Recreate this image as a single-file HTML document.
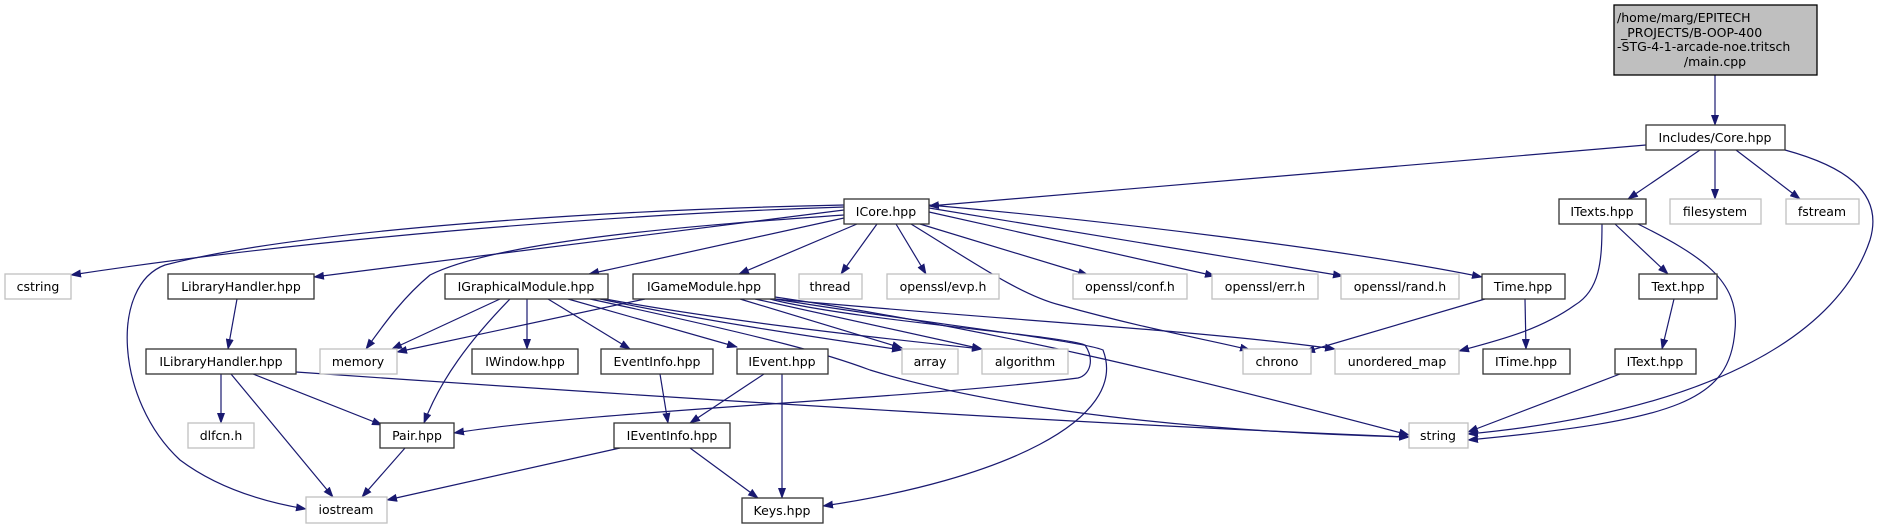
<!DOCTYPE html>
<html><head><meta charset="utf-8"><style>
html,body{margin:0;padding:0;background:#fff;}
svg{display:block;}
text{font-family:"DejaVu Sans","Liberation Sans",sans-serif;font-size:12.5px;fill:#000;text-anchor:middle;}
.e{fill:none;stroke:#191970;stroke-width:1.2;marker-end:url(#a);}
.n{fill:#fff;stroke:#333;stroke-width:1.3;}
.g{fill:#fff;stroke:#c0c0c0;stroke-width:1.3;}
</style></head><body>
<svg width="1880" height="529" viewBox="0 0 1880 529" xmlns="http://www.w3.org/2000/svg">
<defs><marker id="a" markerUnits="userSpaceOnUse" markerWidth="11" markerHeight="8" refX="10" refY="4" orient="auto"><path d="M0,0 L11,4 L0,8 z" fill="#191970"/></marker></defs>
<g>
<path class="e" d="M1715,75 L1715,125"/>
<path class="e" d="M1646,145 L929,206"/>
<path class="e" d="M1700,150 L1628,199"/>
<path class="e" d="M1715,150 L1715,199"/>
<path class="e" d="M1736,150 L1800,199"/>
<path class="e" d="M1785,150 C1840,165 1885,190 1870,240 C1840,330 1720,410 1468,434"/>
<path class="e" d="M1638,224 C1700,255 1740,280 1735,330 C1730,400 1680,420 1468,440"/>
<path class="e" d="M1602,224 C1602,260 1600,290 1575,305 C1540,330 1500,340 1459,351"/>
<path class="e" d="M1615,224 L1668,274"/>
<path class="e" d="M1674,299 L1662,349"/>
<path class="e" d="M1620,374 L1468,432"/>
<path class="e" d="M1525,299 L1526,349"/>
<path class="e" d="M1485,299 L1305,352"/>
<path class="e" d="M929,205 C1100,220 1350,250 1482,277"/>
<path class="e" d="M929,208 L1343,276"/>
<path class="e" d="M929,212 L1215,276"/>
<path class="e" d="M920,224 L1088,275"/>
<path class="e" d="M896,224 L926,274"/>
<path class="e" d="M877,224 L841,274"/>
<path class="e" d="M857,224 L739,274"/>
<path class="e" d="M911,224 C970,260 1020,295 1060,305 C1150,330 1210,340 1250,350"/>
<path class="e" d="M844,218 L589,274"/>
<path class="e" d="M844,215 C700,225 500,240 430,275 C400,300 380,330 366,349"/>
<path class="e" d="M844,210 L314,277"/>
<path class="e" d="M844,207 C600,215 300,240 71,275"/>
<path class="e" d="M844,205 C600,210 300,230 165,265 C110,285 115,400 180,460 C220,490 270,503 306,509"/>
<path class="e" d="M237,299 L228,349"/>
<path class="e" d="M221,374 L221,423"/>
<path class="e" d="M253,374 L382,425"/>
<path class="e" d="M231,374 L333,497"/>
<path class="e" d="M296,372 C700,400 1100,425 1409,437"/>
<path class="e" d="M405,448 L362,497"/>
<path class="e" d="M500,299 L392,349"/>
<path class="e" d="M510,299 C470,340 440,380 424,423"/>
<path class="e" d="M527,299 L527,349"/>
<path class="e" d="M548,299 L630,349"/>
<path class="e" d="M568,299 L737,347"/>
<path class="e" d="M600,299 C700,320 800,335 902,350"/>
<path class="e" d="M605,299 C720,320 850,335 982,349"/>
<path class="e" d="M590,299 C780,340 830,355 870,370 C1000,410 1200,432 1409,437"/>
<path class="e" d="M645,299 L397,352"/>
<path class="e" d="M740,299 L902,348"/>
<path class="e" d="M755,299 L982,349"/>
<path class="e" d="M770,299 C850,320 1060,335 1085,345 C1095,360 1090,375 1078,378 C900,400 600,410 454,433"/>
<path class="e" d="M775,299 C900,320 1080,340 1103,350 C1130,420 1000,480 823,506"/>
<path class="e" d="M775,297 C1000,330 1200,380 1409,435"/>
<path class="e" d="M775,299 C1000,320 1200,330 1335,349"/>
<path class="e" d="M660,374 L668,423"/>
<path class="e" d="M764,374 L690,423"/>
<path class="e" d="M782,374 L782,498"/>
<path class="e" d="M620,448 L387,500"/>
<path class="e" d="M690,448 L758,498"/>
</g>
<g>
<rect x="1614" y="5" width="203" height="70" fill="#bfbfbf" stroke="#000" stroke-width="1.3"/>
<text x="1617" y="22" style="text-anchor:start">/home/marg/EPITECH</text>
<text x="1621" y="37" style="text-anchor:start">_PROJECTS/B-OOP-400</text>
<text x="1617" y="51" style="text-anchor:start">-STG-4-1-arcade-noe.tritsch</text>
<text x="1715" y="66">/main.cpp</text>

<rect class="n" x="1646" y="125" width="139" height="25"/><text x="1715" y="142">Includes/Core.hpp</text>
<rect class="n" x="844" y="199" width="85" height="25"/><text x="886" y="216">ICore.hpp</text>
<rect class="n" x="1559" y="199" width="87" height="25"/><text x="1602" y="216">ITexts.hpp</text>
<rect class="g" x="1670" y="199" width="91" height="25"/><text x="1715" y="216">filesystem</text>
<rect class="g" x="1786" y="199" width="73" height="25"/><text x="1822" y="216">fstream</text>

<rect class="g" x="5" y="274" width="66" height="25"/><text x="38" y="291">cstring</text>
<rect class="n" x="168" y="274" width="146" height="25"/><text x="241" y="291">LibraryHandler.hpp</text>
<rect class="n" x="445" y="274" width="163" height="25"/><text x="526" y="291">IGraphicalModule.hpp</text>
<rect class="n" x="633" y="274" width="142" height="25"/><text x="704" y="291">IGameModule.hpp</text>
<rect class="g" x="799" y="274" width="63" height="25"/><text x="830" y="291">thread</text>
<rect class="g" x="887" y="274" width="112" height="25"/><text x="943" y="291">openssl/evp.h</text>
<rect class="g" x="1073" y="274" width="114" height="25"/><text x="1130" y="291">openssl/conf.h</text>
<rect class="g" x="1212" y="274" width="106" height="25"/><text x="1265" y="291">openssl/err.h</text>
<rect class="g" x="1341" y="274" width="118" height="25"/><text x="1400" y="291">openssl/rand.h</text>
<rect class="n" x="1482" y="274" width="83" height="25"/><text x="1523" y="291">Time.hpp</text>
<rect class="n" x="1639" y="274" width="78" height="25"/><text x="1678" y="291">Text.hpp</text>

<rect class="n" x="146" y="349" width="150" height="25"/><text x="221" y="366">ILibraryHandler.hpp</text>
<rect class="g" x="320" y="349" width="77" height="25"/><text x="358" y="366">memory</text>
<rect class="n" x="472" y="349" width="106" height="25"/><text x="525" y="366">IWindow.hpp</text>
<rect class="n" x="601" y="349" width="112" height="25"/><text x="657" y="366">EventInfo.hpp</text>
<rect class="n" x="737" y="349" width="91" height="25"/><text x="782" y="366">IEvent.hpp</text>
<rect class="g" x="902" y="349" width="56" height="25"/><text x="930" y="366">array</text>
<rect class="g" x="982" y="349" width="86" height="25"/><text x="1025" y="366">algorithm</text>
<rect class="g" x="1243" y="349" width="68" height="25"/><text x="1277" y="366">chrono</text>
<rect class="g" x="1335" y="349" width="124" height="25"/><text x="1397" y="366">unordered_map</text>
<rect class="n" x="1483" y="349" width="87" height="25"/><text x="1526" y="366">ITime.hpp</text>
<rect class="n" x="1615" y="349" width="81" height="25"/><text x="1655" y="366">IText.hpp</text>

<rect class="g" x="188" y="423" width="66" height="25"/><text x="221" y="440">dlfcn.h</text>
<rect class="n" x="380" y="423" width="74" height="25"/><text x="417" y="440">Pair.hpp</text>
<rect class="n" x="614" y="423" width="116" height="25"/><text x="672" y="440">IEventInfo.hpp</text>
<rect class="g" x="1409" y="423" width="59" height="25"/><text x="1438" y="440">string</text>

<rect class="g" x="306" y="497" width="81" height="26"/><text x="346" y="514">iostream</text>
<rect class="n" x="742" y="498" width="81" height="25"/><text x="782" y="515">Keys.hpp</text>
</g>
</svg>
</body></html>
